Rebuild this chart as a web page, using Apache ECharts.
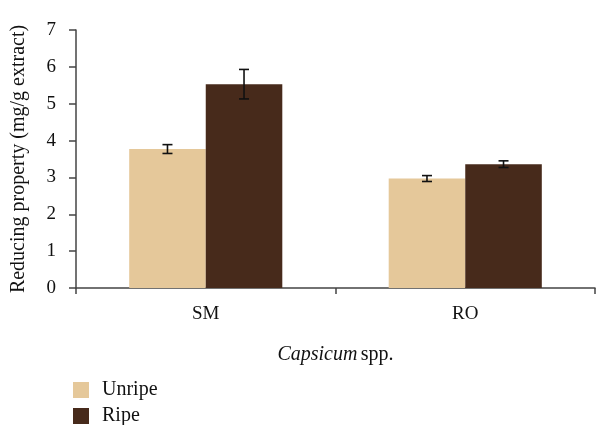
<!DOCTYPE html>
<html><head><meta charset="utf-8">
<script src="https://cdn.jsdelivr.net/npm/echarts@6/dist/echarts.min.js"></script>
<style>html,body{margin:0;padding:0;background:#fff}#c{width:597px;height:425px}</style>
</head><body><div id="c"></div>
<script>
var categories = ['SM', 'RO'];
var unripe = [3.77, 2.97];
var ripe = [5.53, 3.36];
var unripeErr = [0.12, 0.08];
var ripeErr = [0.40, 0.09];
var yTicks = [0, 1, 2, 3, 4, 5, 6, 7];

var font = 'Liberation Serif';
var gap = 0.41;
var errData = [];
categories.forEach(function (c, i) {
  errData.push([i, unripe[i], unripeErr[i], 0]);
  errData.push([i, ripe[i], ripeErr[i], 1]);
});
var legendText = { fontFamily: font, fontSize: 20, color: '#111', padding: [0, 0, 0, 8] };

var chart = echarts.init(document.getElementById('c'));
chart.setOption({
  animation: false,
  grid: { left: 76, right: 2, top: 30, bottom: 137 },
  legend: [
    { left: 73, top: 380, padding: 0, itemWidth: 16, itemHeight: 16, itemGap: 12, icon: 'rect', textStyle: legendText, data: ['Unripe'] },
    { left: 73, top: 406, padding: 0, itemWidth: 16, itemHeight: 16, itemGap: 12, icon: 'rect', textStyle: legendText, data: ['Ripe'] }
  ],
  xAxis: {
    type: 'category', data: categories,
    name: '{i|Capsicum} {n|spp.}', nameLocation: 'middle', nameGap: 57,
    nameTextStyle: { rich: { i: { fontFamily: font, fontStyle: 'italic', fontSize: 20, color: '#111' }, n: { fontFamily: font, fontSize: 20, color: '#111' } } },
    axisLine: { lineStyle: { color: '#444', width: 1.5 } },
    axisTick: { show: true, length: 6, lineStyle: { color: '#444', width: 1.5 } },
    axisLabel: { fontFamily: font, fontSize: 19, color: '#111', margin: 17 }
  },
  yAxis: {
    type: 'value', min: 0, max: 7, interval: 1,
    name: 'Reducing property (mg/g extract)', nameLocation: 'middle', nameGap: 47,
    nameTextStyle: { fontFamily: font, fontSize: 20, color: '#111' },
    axisLine: { show: true, lineStyle: { color: '#444', width: 1.5 } },
    axisTick: { show: true, length: 7, lineStyle: { color: '#444', width: 1.5 } },
    axisLabel: { fontFamily: font, fontSize: 19, color: '#111', margin: 20,
      formatter: function (v) { return yTicks.indexOf(v) >= 0 ? String(v) : ''; } },
    splitLine: { show: false }
  },
  series: [
    { name: 'Unripe', type: 'bar', data: unripe, barGap: 0, barCategoryGap: (gap * 100) + '%', itemStyle: { color: '#E5C89A' } },
    { name: 'Ripe', type: 'bar', data: ripe, barGap: 0, barCategoryGap: (gap * 100) + '%', itemStyle: { color: '#472A1B' } },
    {
      type: 'custom', data: errData, z: 10,
      encode: { x: 0, y: 1 },
      renderItem: function (params, api) {
        var idx = api.value(0), val = api.value(1), err = api.value(2), s = api.value(3);
        var center = api.coord([idx, val]);
        var band = api.size([1, 0])[0];
        var bw = band * (1 - gap) / 2;
        var x = center[0] + (s === 0 ? -bw / 2 : bw / 2);
        var hi = api.coord([idx, val + err])[1];
        var lo = api.coord([idx, val - err])[1];
        var cap = 5;
        var st = { stroke: '#111', lineWidth: 1.6 };
        return { type: 'group', children: [
          { type: 'line', shape: { x1: x, y1: hi, x2: x, y2: lo }, style: st },
          { type: 'line', shape: { x1: x - cap, y1: hi, x2: x + cap, y2: hi }, style: st },
          { type: 'line', shape: { x1: x - cap, y1: lo, x2: x + cap, y2: lo }, style: st }
        ] };
      }
    }
  ]
});
</script></body></html>
